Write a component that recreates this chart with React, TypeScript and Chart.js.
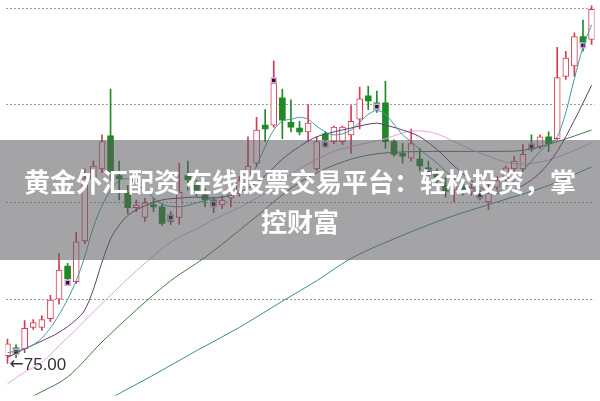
import React, { useEffect, useRef } from "react";
import { Chart, registerables } from "chart.js";

Chart.register(...registerables);

// ---- candle data (one entry per trading day) ----
const OPEN = [75.16, 75.32, 75.3, 75.74, 75.74, 75.92, 76.32, 77.0, 76.68, 77.52,
  78.8, 79.0, 79.68, 78.86, 78.52, 78.2, 78.0, 78.26, 78.22, 78.06,
  78.0, 78.86, 78.66, 78.46, 78.36, 78.26, 78.4, 78.52, 78.72, 79.12,
  79.9, 79.9, 80.46, 79.96, 79.84, 79.76, 79.0, 79.72, 79.56, 79.56,
  79.7, 80.02, 80.5, 80.36, 80.36, 79.56, 79.32, 79.22, 79.2, 79.02,
  78.9, 78.66, 78.56, 78.66, 78.52, 78.5, 78.32, 78.62, 78.8, 79.0,
  79.0, 79.5, 79.46, 79.66, 79.62, 80.9, 81.12, 81.72, 81.66];
const CLOSE = [75.4, 75.2, 75.72, 75.84, 75.9, 76.3, 76.92, 76.74, 77.5, 78.8,
  79.06, 79.56, 78.92, 78.8, 78.2, 78.26, 78.3, 78.22, 77.88, 77.92,
  78.52, 78.78, 78.56, 78.36, 78.24, 78.36, 78.52, 78.76, 79.06, 79.8,
  79.82, 80.76, 80.0, 79.86, 79.76, 79.94, 79.56, 79.6, 79.86, 79.86,
  79.98, 80.44, 80.4, 80.22, 79.56, 79.3, 79.26, 79.52, 79.06, 78.94,
  78.76, 78.54, 78.7, 78.56, 78.62, 78.4, 78.5, 78.76, 79.02, 79.16,
  79.3, 79.4, 79.66, 79.52, 80.88, 81.28, 81.72, 81.6, 82.28];
const HIGH = [75.5, 75.38, 75.88, 75.9, 75.98, 76.4, 77.26, 77.06, 77.7, 79.0,
  79.16, 79.7, 80.64, 79.16, 78.66, 78.36, 78.4, 78.4, 78.28, 78.12,
  79.12, 79.16, 78.76, 78.6, 78.42, 78.44, 78.6, 78.84, 79.66, 80.06,
  80.22, 81.22, 80.64, 80.42, 79.98, 80.32, 79.66, 79.76, 79.88, 79.88,
  80.3, 80.68, 80.7, 80.6, 80.8, 79.6, 79.52, 79.82, 79.42, 79.16,
  79.0, 78.82, 78.8, 78.76, 78.68, 78.56, 78.7, 78.84, 79.06, 79.26,
  79.5, 79.7, 79.7, 79.76, 81.5, 81.42, 81.8, 82.06, 82.4];
const LOW = [75.0, 75.12, 75.22, 75.7, 75.68, 75.86, 76.22, 76.68, 76.64, 77.46,
  78.66, 78.92, 78.76, 78.36, 78.08, 78.12, 77.92, 78.12, 77.84, 77.86,
  77.86, 78.56, 78.44, 78.22, 78.1, 78.18, 78.22, 78.44, 78.64, 79.04,
  79.56, 79.86, 79.62, 79.76, 79.7, 79.56, 78.96, 79.56, 79.52, 79.5,
  79.32, 79.82, 80.22, 80.16, 79.42, 79.26, 79.12, 79.16, 78.96, 78.84,
  78.68, 78.42, 78.32, 78.46, 78.46, 78.36, 78.16, 78.56, 78.76, 78.92,
  78.96, 79.36, 79.42, 79.36, 79.6, 80.84, 80.9, 81.42, 81.56];

// signal markers
const MARK_IDX = [1, 7, 19, 24, 31, 37, 43, 49, 55, 61, 67];
const MARK_VAL = [75.24, 76.66, 78.0, 78.28, 80.82, 79.5, 80.28, 78.92, 78.46, 79.46, 81.54];

// moving averages (day index, value)
const MA5_IDX = [0, 2, 4, 6, 8, 9, 10, 11, 12, 13, 14, 16, 18, 20, 22, 24, 26, 27, 28, 29, 30, 31, 32, 33, 34, 35, 36, 37, 38, 39, 40, 41, 42, 43, 44, 45, 46, 47, 48, 50, 52, 54, 56, 57, 58, 59, 60, 61, 62, 63, 64, 65, 66, 67, 68];
const MA5_VAL = [75.22, 75.3, 75.52, 76.0, 76.7, 77.2, 77.8, 78.24, 78.56, 78.76, 78.8, 78.56, 78.28, 78.22, 78.3, 78.4, 78.46, 78.56, 78.76, 79.06, 79.46, 79.8, 79.98, 80.02, 80.06, 80.02, 79.88, 79.76, 79.7, 79.72, 79.8, 79.96, 80.12, 80.2, 80.12, 79.92, 79.7, 79.56, 79.4, 79.12, 78.8, 78.6, 78.5, 78.52, 78.64, 78.76, 78.96, 79.16, 79.36, 79.52, 79.66, 80.16, 80.86, 81.5, 81.96];
const MA10_IDX = [0, 2, 4, 6, 8, 9, 10, 11, 12, 13, 14, 16, 18, 20, 22, 24, 26, 28, 30, 32, 34, 36, 38, 40, 42, 43, 44, 46, 48, 50, 52, 54, 56, 57, 58, 60, 62, 64, 66, 68];
const MA10_VAL = [75.12, 75.3, 75.46, 75.64, 75.9, 76.1, 76.52, 77.08, 77.56, 77.84, 78.04, 78.24, 78.36, 78.4, 78.42, 78.4, 78.46, 78.6, 78.86, 79.2, 79.46, 79.66, 79.76, 79.84, 79.92, 79.94, 79.9, 79.8, 79.66, 79.4, 79.06, 78.76, 78.52, 78.5, 78.52, 78.66, 78.92, 79.36, 80.0, 80.72];
const MA20_IDX = [0, 2, 4, 6, 8, 10, 12, 14, 16, 18, 20, 22, 24, 26, 28, 30, 32, 34, 36, 38, 40, 42, 44, 46, 47, 48, 50, 52, 54, 56, 58, 60, 62, 64, 66, 68];
const MA20_VAL = [74.58, 74.82, 75.02, 75.36, 75.7, 76.06, 76.4, 76.74, 77.06, 77.36, 77.6, 77.76, 77.96, 78.12, 78.3, 78.5, 78.76, 79.0, 79.2, 79.36, 79.46, 79.54, 79.62, 79.74, 79.78, 79.78, 79.72, 79.56, 79.4, 79.26, 79.14, 79.1, 79.14, 79.24, 79.38, 79.54];
const MA60_IDX = [2, 4, 7, 11, 15, 19, 23, 28, 34, 40, 45, 51, 57, 60, 64, 68];
const MA60_VAL = [74.24, 74.42, 74.72, 75.44, 76.1, 76.7, 77.18, 77.88, 78.72, 79.2, 79.34, 79.36, 79.36, 79.38, 79.56, 79.8];
const MA120_IDX = [10, 12, 17, 22, 27, 32, 36, 40, 45, 51, 57, 63, 68];
const MA120_VAL = [74.06, 74.28, 74.76, 75.26, 75.74, 76.28, 76.7, 77.16, 77.56, 77.98, 78.32, 78.66, 79.04];

// axis settings
const GRID_VALUES = [76.32, 78.3, 80.32, 82.3];
const Y_MIN = 74.34;
const Y_MAX = 82.36;
const X_MIN = -0.23;
const X_MAX = 68.34;

const TITLE_LINE1 = "黄金外汇配资 在线股票交易平台：轻松投资，掌";
const TITLE_LINE2 = "控财富";

const UP = "#d63b50";
const DOWN = "#1f8a26";

const pts = (idx: number[], val: number[]) => idx.map((x, i) => ({ x, y: val[i] }));

const lowLabel = {
  id: "lowLabel",
  afterDatasetsDraw(chart: any) {
    let mi = 0;
    for (let i = 1; i < LOW.length; i++) if (LOW[i] < LOW[mi]) mi = i;
    const x = chart.scales.x.getPixelForValue(mi);
    const y = chart.scales.y.getPixelForValue(LOW[mi]);
    const ctx = chart.ctx;
    ctx.save();
    ctx.fillStyle = "#333333";
    ctx.textBaseline = "alphabetic";
    ctx.textAlign = "left";
    ctx.font = '17px "DejaVu Sans", sans-serif';
    const arrow = "←";
    ctx.fillText(arrow, x + 2, y + 6);
    const aw = ctx.measureText(arrow).width;
    ctx.font = '17px "Liberation Sans", Arial, sans-serif';
    ctx.fillText(LOW[mi].toFixed(2), x + 2 + aw, y + 7);
    ctx.restore();
  },
};

export default function App() {
  const ref = useRef<HTMLCanvasElement | null>(null);
  useEffect(() => {
    if (!ref.current) return;
    const isUp = (i: number) => CLOSE[i] >= OPEN[i];
    const colorOf = (c: any) => (isUp(c.dataIndex) ? UP : DOWN);
    const line = (label: string, idx: number[], val: number[], color: string) => ({
      type: "line" as const,
      label,
      data: pts(idx, val),
      borderColor: color,
      borderWidth: 1,
      pointRadius: 0,
      cubicInterpolationMode: "monotone" as const,
      fill: false,
      order: 0,
    });
    const chart = new Chart(ref.current, {
      type: "bar",
      data: {
        datasets: [
          {
            type: "bar",
            label: "wick",
            data: LOW.map((l, i) => ({ x: i, y: [l, HIGH[i]] })) as any,
            backgroundColor: colorOf,
            borderWidth: 0,
            barThickness: 1,
            grouped: false,
            order: 3,
          } as any,
          {
            type: "bar",
            label: "body",
            data: OPEN.map((o, i) => ({ x: i, y: [o, CLOSE[i]] })) as any,
            backgroundColor: (c: any) => (isUp(c.dataIndex) ? "#ffffff" : DOWN),
            borderColor: colorOf,
            borderWidth: (c: any) => (isUp(c.dataIndex) ? 1 : 0),
            borderSkipped: false,
            barThickness: 6,
            minBarLength: 2,
            grouped: false,
            order: 2,
          } as any,
          {
            type: "line",
            label: "signal",
            data: pts(MARK_IDX, MARK_VAL),
            showLine: false,
            pointStyle: "rect",
            pointRadius: 3.5,
            pointBackgroundColor: "#1c1a26",
            pointBorderColor: "#e2a4e2",
            pointBorderWidth: 1.5,
            order: 1,
          } as any,
          line("MA5", MA5_IDX, MA5_VAL, "#3d9d9f"),
          line("MA10", MA10_IDX, MA10_VAL, "#5e3c6e"),
          line("MA20", MA20_IDX, MA20_VAL, "#e4a2e4"),
          line("MA60", MA60_IDX, MA60_VAL, "#3f7d3f"),
          line("MA120", MA120_IDX, MA120_VAL, "#3b8c8e"),
        ],
      },
      options: {
        animation: false,
        responsive: false,
        events: [],
        layout: { padding: 0 },
        plugins: { legend: { display: false }, tooltip: { enabled: false } },
        scales: {
          x: { type: "linear", min: X_MIN, max: X_MAX, display: false, offset: false },
          y: {
            type: "linear",
            min: Y_MIN,
            max: Y_MAX,
            display: true,
            afterBuildTicks: (s: any) => {
              s.ticks = GRID_VALUES.map((v) => ({ value: v }));
            },
            ticks: { display: false },
            grid: { drawTicks: false, color: "#9a9a9a", lineWidth: 1 },
            border: { display: false, dash: [2, 2] },
          },
        },
      } as any,
      plugins: [lowLabel],
    });
    return () => chart.destroy();
  }, []);

  return (
    <div style={{ position: "absolute", left: 0, top: 0, width: 600, height: 401, background: "#fff", overflow: "hidden" }}>
      <canvas ref={ref} width={600} height={401} style={{ display: "block", width: 600, height: 401 }} />
      <div
        style={{
          position: "absolute",
          left: 0,
          top: 140,
          width: 600,
          height: 120,
          boxSizing: "border-box",
          paddingTop: 21,
          background: "rgba(92,92,98,0.56)",
          color: "#ffffff",
          fontFamily: '"Noto Sans CJK SC", "Noto Sans", sans-serif',
          fontWeight: 700,
          fontSize: 26,
          lineHeight: "40px",
          textAlign: "center",
          whiteSpace: "nowrap",
        }}
      >
        <div>{TITLE_LINE1}</div>
        <div>{TITLE_LINE2}</div>
      </div>
    </div>
  );
}
